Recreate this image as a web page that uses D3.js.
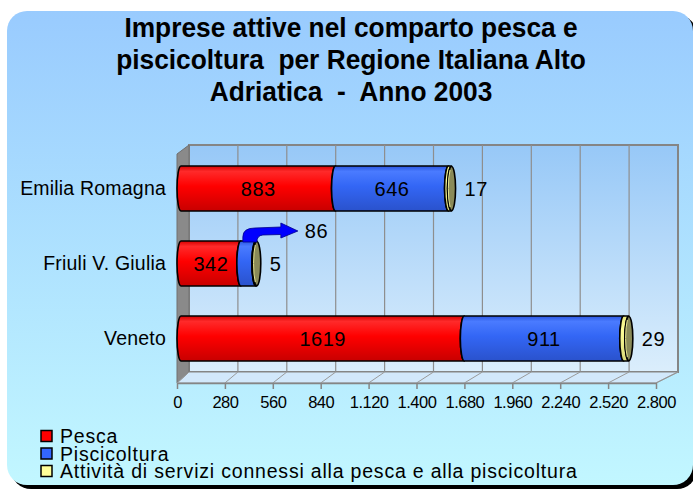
<!DOCTYPE html>
<html>
<head>
<meta charset="utf-8">
<script src="https://cdn.jsdelivr.net/npm/d3@7"></script>
<style>
  html, body { margin: 0; padding: 0; background: #fff; }
  svg { display: block; font-family: "Liberation Sans", Arial, sans-serif; }
</style>
</head>
<body>
<svg id="chart" width="693" height="489"></svg>
<script>
// Imprese attive nel comparto pesca e piscicoltura — stacked 3D cylinder bars.

const titleLines = [
  "Imprese attive nel comparto pesca e",
  "piscicoltura  per Regione Italiana Alto",
  "Adriatica  -  Anno 2003",
];
const regions = ["Emilia Romagna", "Friuli V. Giulia", "Veneto"];
const pesca = [883, 342, 1619];
const piscicoltura = [646, 86, 911];
const servizi = [17, 5, 29];
const seriesNames = ["Pesca", "Piscicoltura", "Attività di servizi connessi alla pesca e alla piscicoltura"];
const seriesColors = ["red", "blue", "yellow"];
const tickValues = [0, 280, 560, 840, 1120, 1400, 1680, 1960, 2240, 2520, 2800];
const tickLabels = ["0", "280", "560", "840", "1.120", "1.400", "1.680", "1.960", "2.240", "2.520", "2.800"];

const W = 693, H = 489;
const svg = d3.select("#chart");
const defs = svg.append("defs");

const vGrad = (id, stops) => {
  const g = defs.append("linearGradient").attr("id", id)
    .attr("x1", 0).attr("y1", 0).attr("x2", 0).attr("y2", 1);
  stops.forEach(([o, c]) => g.append("stop").attr("offset", o).attr("stop-color", c));
};
vGrad("card", [[0, "#99cbfe"], [1, "#c2f7ff"]]);
vGrad("wall", [[0, "#97c8f7"], [1, "#dbeefc"]]);
vGrad("red", [[0, "#d40000"], [0.12, "#ff2a2a"], [0.45, "#ff0000"], [1, "#c80000"]]);
vGrad("blue", [[0, "#2a55e0"], [0.12, "#4a7bff"], [0.45, "#3366f5"], [1, "#2a52cc"]]);
vGrad("yellow", [[0, "#e8e880"], [0.3, "#ffff99"], [1, "#d8d878"]]);

// --- card background with drop shadow (runs off the right edge) ---
svg.append("rect").attr("x", 11).attr("y", 15).attr("width", 686).attr("height", 474)
  .attr("rx", 20).attr("fill", "#000");
svg.append("rect").attr("x", 7).attr("y", 11).attr("width", 686).attr("height", 474)
  .attr("rx", 20).attr("fill", "url(#card)");

// --- title ---
const title = svg.append("g").attr("transform", "translate(351,0) scale(0.94,1)");
title.selectAll("text").data(titleLines).join("text")
  .attr("x", 0).attr("y", (d, i) => 37 + i * 32)
  .attr("text-anchor", "middle").attr("font-weight", "bold").attr("font-size", 28)
  .attr("fill", "#000").style("white-space", "pre").text((d) => d);

// --- scales ---
const xFront = d3.scaleLinear().domain([0, 2800]).range([177, 656]);
const xBack = d3.scaleLinear().domain([0, 2800]).range([189, 678]);
const xBar = d3.scaleLinear().domain([0, 2800]).range([181, 671]);
const y = d3.scaleBand().domain(regions).range([151, 376]).paddingInner(0.4).paddingOuter(0.2);

const wallTop = 145, wallBottom = 372, floorFront = 383;
const grey = "#858585";

// --- 3D box: back wall, side wall, floor ---
svg.append("rect")
  .attr("x", xBack(0)).attr("y", wallTop)
  .attr("width", xBack(2800) - xBack(0)).attr("height", wallBottom - wallTop)
  .attr("fill", "url(#wall)").attr("stroke", grey).attr("stroke-width", 2);

svg.append("g").selectAll("line").data(tickValues.slice(1, -1)).join("line")
  .attr("x1", (d) => xBack(d)).attr("x2", (d) => xBack(d))
  .attr("y1", wallTop).attr("y2", wallBottom)
  .attr("stroke", "#8e8e8e").attr("stroke-width", 1.2);

svg.append("polygon")
  .attr("points", [[xFront(0), wallTop + 9], [xBack(0), wallTop], [xBack(0), wallBottom], [xFront(0), floorFront]].join(" "))
  .attr("fill", "#8a8a8a").attr("stroke", "#707070").attr("stroke-width", 1);

svg.append("polygon")
  .attr("points", [[xFront(0), floorFront], [xBack(0), wallBottom], [xBack(2800), wallBottom], [xFront(2800), floorFront]].join(" "))
  .attr("fill", "#d2e8fb").attr("stroke", grey).attr("stroke-width", 1);

svg.append("g").selectAll("line").data(tickValues).join("line")
  .attr("x1", (d) => xFront(d)).attr("x2", (d) => xBack(d))
  .attr("y1", floorFront).attr("y2", wallBottom)
  .attr("stroke", "#9a9a9a").attr("stroke-width", 1);

// --- x axis ---
const axis = svg.append("g").attr("transform", `translate(0,${floorFront})`)
  .call(d3.axisBottom(xFront).tickValues(tickValues)
    .tickFormat((d, i) => tickLabels[i]).tickSize(6).tickSizeOuter(0).tickPadding(7));
axis.select(".domain").attr("stroke", grey).attr("stroke-width", 1.5);
axis.selectAll(".tick line").attr("stroke", grey).attr("stroke-width", 1.5);
axis.selectAll(".tick text").attr("font-size", 16.5).attr("fill", "#000")
  .attr("font-family", "'Liberation Sans', Arial, sans-serif").attr("letter-spacing", "-0.5px");

// --- category labels ---
svg.append("g").selectAll("text").data(regions).join("text")
  .attr("x", 166).attr("y", (d) => y(d) + y.bandwidth() / 2)
  .attr("dy", "0.35em").attr("text-anchor", "end").attr("font-size", 19.5)
  .attr("letter-spacing", "0.2px").text((d) => d);

// --- stacked cylinders ---
const rx = 4;
const rows = regions.map((r, i) => {
  const vals = [pesca[i], piscicoltura[i], servizi[i]];
  let acc = 0;
  const segs = vals.map((v, k) => {
    const s = { region: r, key: seriesColors[k], value: v, x0: xBar(acc), x1: xBar(acc + v), k };
    acc += v;
    return s;
  });
  return { region: r, segs, total: acc };
});

// one slice of the cylinder: both edges are the near half of a cross-section
const segPath = (s, top, h) => {
  const ry = h / 2, bot = top + h;
  return `M${s.x0},${top} A${rx},${ry} 0 0 0 ${s.x0},${bot} L${s.x1},${bot} A${rx},${ry} 0 0 1 ${s.x1},${top} Z`;
};

const bars = svg.append("g").selectAll("g.bar").data(rows).join("g").attr("class", "bar");
bars.each(function (row) {
  const g = d3.select(this);
  const top = y(row.region), h = y.bandwidth();
  g.selectAll("path.seg").data(row.segs).join("path").attr("class", "seg")
    .attr("d", (s) => segPath(s, top, h))
    .attr("fill", (s) => `url(#${s.key})`)
    .attr("stroke", "#000").attr("stroke-width", 1.6).attr("stroke-linejoin", "round");
  // end face of the cylinder
  g.append("ellipse")
    .attr("cx", xBar(row.total)).attr("cy", top + h / 2)
    .attr("rx", rx).attr("ry", h / 2 - 0.5)
    .attr("fill", "#8a8a58").attr("stroke", "#000").attr("stroke-width", 1.6);
  g.append("path")
    .attr("d", `M${xBar(row.total) - 1.5},${top + 4} A${rx},${h / 2} 0 0 0 ${xBar(row.total) - 1.5},${top + h - 4}`)
    .attr("fill", "none").attr("stroke", "#e8e890").attr("stroke-width", 1);

  // labels inside wide segments
  g.selectAll("text.in").data(row.segs.filter((s) => s.x1 - s.x0 > 30)).join("text")
    .attr("class", "in")
    .attr("x", (s) => (s.x0 + s.x1) / 2).attr("y", top + h / 2).attr("dy", "0.36em")
    .attr("text-anchor", "middle").attr("font-size", 20).attr("letter-spacing", "0.5px")
    .text((s) => s.value);

  // services value to the right of the cylinder
  g.append("text")
    .attr("x", xBar(row.total) + rx + 9).attr("y", top + h / 2).attr("dy", "0.36em")
    .attr("font-size", 20).attr("letter-spacing", "0.5px").text(row.segs[2].value);
});

// callout arrow for the narrow Friuli piscicoltura segment
const fr = rows[1].segs[1];
const ax = fr.x0, ay = y(rows[1].region);
const arrow = d3.path();
arrow.moveTo(ax + 2, ay + 1);
arrow.lineTo(ax + 2, ay - 4);
arrow.quadraticCurveTo(ax + 2, ay - 13, ax + 14, ay - 13);
arrow.lineTo(ax + 40, ay - 14);
arrow.lineTo(ax + 40, ay - 18);
arrow.lineTo(ax + 57, ay - 10);
arrow.lineTo(ax + 40, ay - 3);
arrow.lineTo(ax + 40, ay - 6.5);
arrow.lineTo(ax + 22, ay - 6);
arrow.quadraticCurveTo(ax + 16, ay - 5.5, ax + 16, ay + 1);
arrow.closePath();
svg.append("path").attr("d", arrow.toString())
  .attr("fill", "#0000ff").attr("stroke", "#00008a").attr("stroke-width", 0.8);
svg.append("text").attr("x", ax + 64).attr("y", ay - 10).attr("dy", "0.36em")
  .attr("font-size", 20).attr("letter-spacing", "0.5px").text(fr.value);

// --- legend ---
const legend = svg.append("g").selectAll("g").data(seriesNames).join("g")
  .attr("transform", (d, i) => `translate(41,${436 + i * 17.5})`);
legend.append("rect").attr("x", 0).attr("y", -5.5).attr("width", 11).attr("height", 11)
  .attr("fill", (d, i) => ["#ff0000", "#3366ff", "#ffff99"][i])
  .attr("stroke", "#000").attr("stroke-width", 1.5);
legend.append("text").attr("x", 19).attr("y", 0).attr("dy", "0.36em")
  .attr("font-size", 19.5).attr("letter-spacing", "0.8px").text((d) => d);
</script>
</body>
</html>
